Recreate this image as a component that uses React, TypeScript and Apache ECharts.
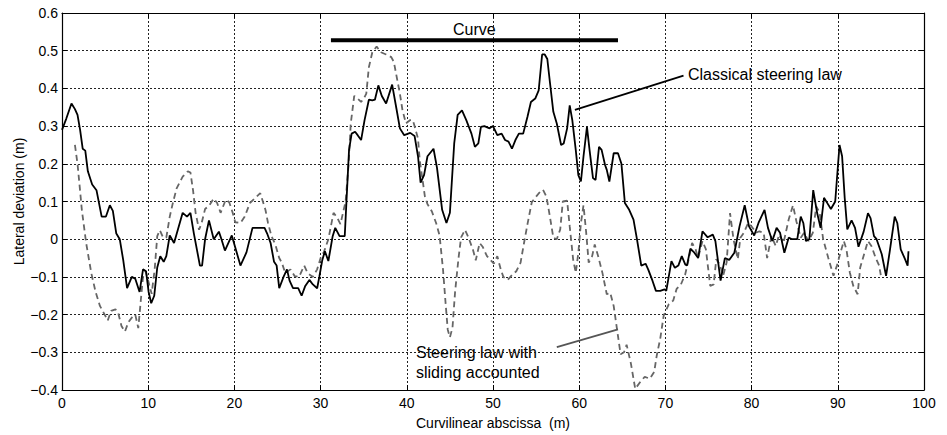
import React, { useEffect, useRef } from "react";
import * as echarts from "echarts";

// Classical steering law (solid black): [abscissa m, lateral deviation m]
const classical: number[][] = [
  [0.0, 0.29], [0.5, 0.32], [1.1, 0.36], [1.5, 0.345], [1.8, 0.33], [2.1, 0.29], [2.4, 0.24], [2.7, 0.235],
  [3.0, 0.18], [3.5, 0.145], [4.0, 0.13], [4.6, 0.06], [5.1, 0.06], [5.55, 0.09], [5.9, 0.075], [6.3, 0.015],
  [6.7, 0.0], [7.1, -0.055], [7.55, -0.13], [8.1, -0.1], [8.5, -0.105], [9.0, -0.14], [9.4, -0.08], [9.75, -0.085],
  [10.05, -0.14], [10.35, -0.17], [10.7, -0.15], [11.05, -0.075], [11.4, -0.045], [11.8, -0.06], [12.1, -0.045],
  [12.5, 0.01], [13.0, -0.01], [14.0, 0.07], [14.5, 0.06], [14.9, 0.07], [15.3, 0.015], [16.0, -0.07], [16.25, -0.07],
  [16.6, 0.0], [17.05, 0.05], [17.6, 0.0], [18.2, 0.02], [18.5, 0.0], [18.9, -0.03], [19.7, 0.01], [20.2, -0.03],
  [20.7, -0.07], [21.4, -0.035], [22.1, 0.03], [23.5, 0.03], [23.8, 0.015], [24.2, -0.01], [24.6, -0.06], [24.9, -0.07],
  [25.2, -0.13], [25.7, -0.1], [26.1, -0.08], [26.4, -0.11], [26.8, -0.13], [27.4, -0.13], [27.8, -0.15], [28.2, -0.125],
  [28.7, -0.108], [29.1, -0.12], [29.6, -0.13], [29.85, -0.1], [30.2, -0.055], [30.5, -0.032], [30.9, -0.058],
  [31.4, 0.008], [31.7, 0.03], [32.2, 0.008], [32.8, 0.008], [33.0, 0.1], [33.3, 0.237], [33.6, 0.28], [34.0, 0.285],
  [34.3, 0.276], [34.7, 0.263], [35.1, 0.316], [35.6, 0.37], [36.0, 0.368], [36.3, 0.37], [36.7, 0.408], [37.1, 0.38],
  [37.6, 0.36], [38.3, 0.41], [38.8, 0.346], [39.2, 0.294], [39.7, 0.276], [40.4, 0.282], [40.9, 0.274], [41.3, 0.22],
  [41.6, 0.15], [42.0, 0.17], [42.4, 0.22], [43.1, 0.24], [43.5, 0.19], [44.1, 0.078], [44.6, 0.043], [45.0, 0.07],
  [45.5, 0.254], [45.9, 0.33], [46.4, 0.342], [46.9, 0.316], [47.5, 0.28], [47.9, 0.245], [48.3, 0.254], [48.6, 0.298],
  [49.0, 0.3], [49.6, 0.294], [50.0, 0.3], [50.5, 0.276], [51.0, 0.28], [51.4, 0.263], [51.8, 0.259], [52.2, 0.24],
  [52.6, 0.263], [53.0, 0.28], [53.5, 0.28], [54.0, 0.325], [54.4, 0.364], [54.9, 0.373], [55.3, 0.395], [55.7, 0.49],
  [56.0, 0.49], [56.3, 0.478], [56.6, 0.417], [57.0, 0.338], [57.4, 0.307], [57.9, 0.25], [58.2, 0.254], [58.6, 0.294],
  [58.9, 0.355], [59.2, 0.316], [59.6, 0.237], [59.9, 0.17], [60.2, 0.153], [60.5, 0.22], [60.9, 0.298], [61.2, 0.237],
  [61.6, 0.162], [61.9, 0.157], [62.3, 0.245], [62.6, 0.237], [63.0, 0.197], [63.2, 0.184], [63.5, 0.153], [64.0, 0.228],
  [64.5, 0.228], [64.9, 0.2], [65.3, 0.096], [65.8, 0.078], [66.3, 0.052], [66.7, 0.0], [67.2, -0.07], [67.7, -0.065],
  [68.0, -0.08], [68.5, -0.11], [68.9, -0.137], [69.4, -0.137], [69.9, -0.133], [70.1, -0.137], [70.7, -0.058],
  [71.1, -0.076], [71.5, -0.07], [71.9, -0.045], [72.3, -0.067], [72.5, -0.07], [72.9, -0.025], [73.3, -0.034],
  [73.8, -0.05], [74.3, 0.021], [74.9, 0.005], [75.5, 0.012], [75.8, -0.005], [76.4, -0.11], [76.9, -0.05],
  [77.4, -0.055], [78.0, -0.036], [78.6, 0.034], [79.2, 0.09], [79.7, 0.034], [80.3, 0.01], [80.8, 0.043],
  [81.5, 0.078], [81.9, 0.03], [82.4, -0.005], [82.9, 0.03], [83.3, 0.017], [83.8, -0.036], [84.3, 0.004],
  [84.7, 0.0], [85.3, 0.0], [85.7, 0.06], [86.0, 0.043], [86.3, -0.005], [86.7, 0.0], [87.15, 0.13], [87.6, 0.07],
  [88.0, 0.03], [88.4, 0.11], [88.8, 0.095], [89.2, 0.08], [89.7, 0.1], [90.2, 0.25], [90.5, 0.22], [90.8, 0.11],
  [91.1, 0.026], [91.6, 0.05], [92.0, 0.03], [92.4, -0.02], [93.0, 0.02], [93.5, 0.069], [93.8, 0.056], [94.2, 0.008],
  [94.5, 0.0], [95.1, -0.04], [95.6, -0.097], [96.0, -0.036], [96.6, 0.06], [96.9, 0.043], [97.3, -0.027],
  [97.8, -0.053], [98.1, -0.07], [98.2, -0.032],
];

// Steering law with sliding accounted (dashed grey)
const sliding: number[][] = [
  [1.5, 0.25], [1.8, 0.2], [2.05, 0.14], [2.3, 0.078], [2.8, -0.01], [3.4, -0.09], [3.9, -0.14], [4.4, -0.177],
  [4.95, -0.2], [5.3, -0.216], [5.7, -0.19], [6.2, -0.186], [6.5, -0.194], [6.9, -0.23], [7.3, -0.245], [7.7, -0.22],
  [8.1, -0.208], [8.5, -0.2], [8.85, -0.236], [9.15, -0.16], [9.4, -0.1], [9.7, -0.085], [10.0, -0.11], [10.4, -0.145],
  [10.75, -0.08], [11.05, 0.008], [11.35, 0.024], [11.7, 0.006], [12.1, 0.004], [12.5, 0.06], [12.9, 0.1], [13.3, 0.135],
  [14.0, 0.166], [14.6, 0.18], [14.9, 0.177], [15.2, 0.13], [15.5, 0.07], [15.9, 0.025], [16.2, 0.043], [16.6, 0.08],
  [17.1, 0.09], [17.6, 0.108], [18.0, 0.096], [18.4, 0.07], [19.0, 0.105], [19.4, 0.098], [19.8, 0.07], [20.1, 0.045],
  [20.7, 0.043], [21.2, 0.06], [21.8, 0.096], [22.4, 0.109], [23.0, 0.122], [23.6, 0.078], [23.9, 0.043], [24.3, 0.008],
  [24.75, -0.014], [25.2, -0.05], [25.5, -0.062], [25.9, -0.09], [26.5, -0.08], [27.0, -0.098], [27.5, -0.1],
  [28.1, -0.07], [28.5, -0.09], [29.1, -0.1], [29.6, -0.08], [30.0, -0.05], [30.4, -0.033], [30.9, 0.0], [31.5, 0.07],
  [31.9, 0.058], [32.3, 0.04], [32.6, 0.07], [32.9, 0.1], [33.25, 0.2], [33.5, 0.307], [33.9, 0.38], [34.3, 0.373],
  [34.7, 0.364], [35.1, 0.377], [35.3, 0.386], [35.6, 0.456], [36.0, 0.496], [36.5, 0.511], [37.0, 0.496], [37.6, 0.49],
  [38.2, 0.483], [38.5, 0.47], [38.8, 0.434], [39.2, 0.386], [39.5, 0.342], [39.9, 0.307], [40.4, 0.316], [40.7, 0.316],
  [40.9, 0.3], [41.3, 0.267], [41.5, 0.21], [41.8, 0.162], [42.1, 0.113], [42.4, 0.093], [42.9, 0.074], [43.4, 0.043],
  [43.8, 0.01], [44.2, -0.08], [44.5, -0.17], [44.75, -0.24], [45.0, -0.26], [45.3, -0.235], [45.6, -0.14], [46.0, -0.05],
  [46.3, 0.005], [46.75, 0.025], [47.15, 0.005], [47.7, -0.03], [48.0, -0.056], [48.45, -0.01], [48.8, -0.02],
  [49.3, -0.045], [49.7, -0.055], [50.1, -0.065], [50.5, -0.045], [50.9, -0.08], [51.2, -0.1], [51.7, -0.108],
  [52.2, -0.095], [52.7, -0.085], [53.2, -0.062], [53.6, -0.01], [54.0, 0.04], [54.5, 0.098], [55.0, 0.113],
  [55.5, 0.127], [55.8, 0.131], [56.2, 0.113], [56.6, 0.06], [57.0, 0.004], [57.4, 0.0], [57.8, 0.026], [58.1, 0.1],
  [58.6, 0.102], [58.9, 0.034], [59.3, -0.054], [59.6, -0.089], [59.9, -0.036], [60.2, 0.043], [60.5, 0.09],
  [60.8, 0.02], [61.1, -0.062], [61.5, -0.045], [61.8, -0.014], [62.2, -0.045], [62.7, -0.09], [63.2, -0.146],
  [63.6, -0.142], [64.0, -0.177], [64.3, -0.225], [64.8, -0.305], [65.2, -0.3], [65.5, -0.28], [66.0, -0.33],
  [66.5, -0.397], [67.1, -0.378], [67.6, -0.365], [68.2, -0.37], [68.7, -0.352], [69.0, -0.308], [69.4, -0.264],
  [69.8, -0.203], [70.4, -0.172], [70.9, -0.163], [71.3, -0.132], [71.8, -0.12], [72.3, -0.093], [72.7, -0.053],
  [73.1, -0.01], [73.5, -0.027], [73.8, -0.049], [74.3, -0.005], [74.7, -0.027], [75.2, -0.124], [75.6, -0.12],
  [75.9, -0.053], [76.3, -0.067], [76.7, -0.097], [77.1, -0.062], [77.5, 0.069], [77.9, 0.0], [78.4, -0.053],
  [78.7, 0.004], [79.1, 0.017], [79.6, 0.043], [80.0, 0.034], [80.5, 0.017], [80.9, 0.021], [81.4, 0.017],
  [81.8, -0.05], [82.3, 0.008], [82.8, -0.018], [83.2, 0.012], [83.7, -0.01], [84.3, 0.052], [84.8, 0.09],
  [85.2, 0.047], [85.7, 0.004], [86.1, 0.017], [86.6, -0.005], [87.1, 0.017], [87.5, 0.087], [87.9, 0.07], [88.3, 0.0],
  [88.9, -0.05], [89.5, -0.097], [89.9, -0.07], [90.3, -0.036], [90.7, -0.005], [91.0, -0.027], [91.4, -0.089],
  [91.8, -0.124], [92.3, -0.146], [92.6, -0.075], [93.1, -0.036], [93.5, -0.005], [93.9, -0.018], [94.4, -0.05],
  [94.8, -0.07], [95.0, -0.097], [95.4, -0.097],
];

// Annotation segments (data coordinates)
const curveBar: number[][] = [[31.2, 0.528], [64.5, 0.528]];
const classicalPointer: number[][] = [[59.5, 0.343], [72.1, 0.434]];
const slidingPointer: number[][] = [[57.4, -0.286], [64.5, -0.239]];

const xMin = 0, xMax = 100, xStep = 10;
const yMin = -0.4, yMax = 0.6, yStep = 0.1;

const FONT = "'Liberation Sans', Arial, Helvetica, sans-serif";

function fmtY(v: number): string {
  if (Math.abs(v) < 1e-9) return "0";
  return v.toFixed(1).replace("-", "\u2212");
}

export default function App() {
  const ref = useRef<HTMLDivElement>(null);
  useEffect(() => {
    if (!ref.current) return;
    const chart = echarts.init(ref.current, null, { renderer: "svg" });
    const gridLine = { show: true, lineStyle: { color: "#222", type: [2, 2] as any, width: 1 } };
    const axisLine = { show: true, onZero: false, lineStyle: { color: "#000", width: 1.2 } };
    const tick = { show: true, inside: true, length: 5, lineStyle: { color: "#000" } };
    const segment = (data: number[][], color: string, width: number) => ({
      type: "line",
      data,
      showSymbol: false,
      symbol: "none",
      silent: true,
      lineStyle: { color, width, type: "solid" },
      z: 4,
    });
    chart.setOption({
      animation: false,
      grid: { left: 62, right: 23, top: 13, bottom: 44, containLabel: false },
      xAxis: [
        {
          type: "value", min: xMin, max: xMax, interval: xStep, position: "bottom",
          axisLine, axisTick: tick, splitLine: gridLine,
          axisLabel: { color: "#000", fontSize: 14, fontFamily: FONT, margin: 6 },
          name: "Curvilinear abscissa  (m)", nameLocation: "middle", nameGap: 26, nameMoveOverlap: false,
          nameTextStyle: { color: "#000", fontSize: 14, fontFamily: FONT },
        },
        {
          type: "value", min: xMin, max: xMax, interval: xStep, position: "top",
          axisLine, axisTick: tick, splitLine: { show: false }, axisLabel: { show: false },
        },
      ],
      yAxis: [
        {
          type: "value", min: yMin, max: yMax, interval: yStep, position: "left",
          axisLine, axisTick: tick, splitLine: gridLine,
          axisLabel: { color: "#000", fontSize: 14, fontFamily: FONT, margin: 4, formatter: fmtY },
          name: "Lateral deviation (m)", nameLocation: "middle", nameGap: 36, nameMoveOverlap: false,
          nameTextStyle: { color: "#000", fontSize: 14, fontFamily: FONT },
        },
        {
          type: "value", min: yMin, max: yMax, interval: yStep, position: "right",
          axisLine, axisTick: tick, splitLine: { show: false }, axisLabel: { show: false },
        },
      ],
      series: [
        {
          type: "line", name: "Steering law with sliding accounted", data: sliding,
          showSymbol: false, symbol: "none",
          lineStyle: { color: "#666", width: 1.8, type: [6, 4] as any }, z: 2,
        },
        {
          type: "line", name: "Classical steering law", data: classical,
          showSymbol: false, symbol: "none",
          lineStyle: { color: "#000", width: 1.8 }, z: 3,
        },
        segment(curveBar, "#000", 4),
        segment(classicalPointer, "#000", 1.8),
        segment(slidingPointer, "#555", 1.8),
      ],
      graphic: [
        { type: "text", left: 474 - 21, top: 21, style: { text: "Curve", fill: "#000", font: `16px ${FONT}` } },
        { type: "text", left: 688, top: 66, style: { text: "Classical steering law", fill: "#000", font: `16px ${FONT}` } },
        { type: "text", left: 416, top: 344, style: { text: "Steering law with", fill: "#000", font: `16px ${FONT}` } },
        { type: "text", left: 416, top: 364, style: { text: "sliding accounted", fill: "#000", font: `16px ${FONT}` } },
      ],
    });
    return () => chart.dispose();
  }, []);
  return (
    <div
      ref={ref}
      style={{ position: "fixed", left: 0, top: 0, width: 947, height: 435, background: "#fff" }}
    />
  );
}
